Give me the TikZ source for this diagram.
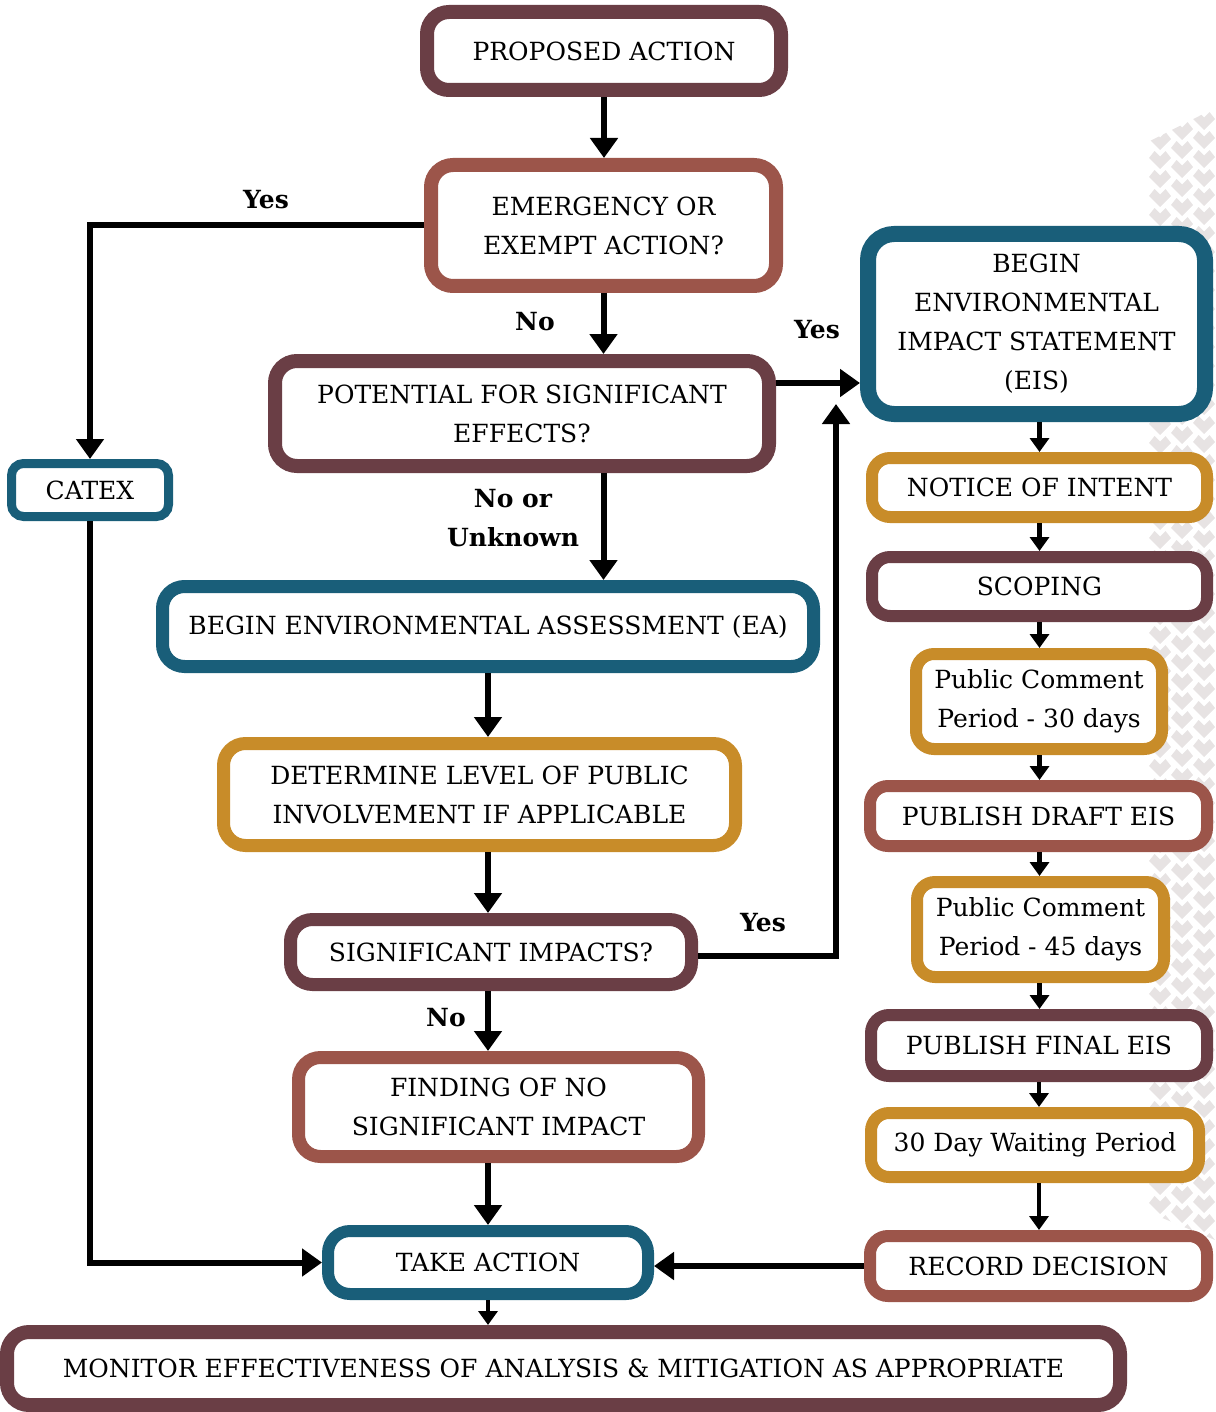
\documentclass[tikz,border=0pt]{standalone}
\usepackage{fontspec}
\setmainfont{DejaVu Serif}
\usetikzlibrary{arrows.meta}
\definecolor{maroon}{HTML}{6A3E45}
\definecolor{brick}{HTML}{9C554A}
\definecolor{teal}{HTML}{195E79}
\definecolor{gold}{HTML}{C88C29}
\definecolor{patgrey}{HTML}{E7E3E3}
\begin{document}
\begin{tikzpicture}[x=1pt,y=-1pt,
  box/.style={draw=#1, fill=white, line width=13pt, rounded corners=22pt,
    align=center, inner sep=0pt, font=\fontsize{25}{39}\selectfont},
  thinbox/.style={box=#1, line width=12pt, rounded corners=18pt},
  arr/.style={line width=6pt, -{Triangle[width=27pt,length=20pt]}},
  sarr/.style={line width=4.5pt, -{Triangle[width=19pt,length=14pt]}},
  lbl/.style={font=\fontsize{25}{39}\selectfont\bfseries, align=center, inner sep=0pt}]

\useasboundingbox (0,0) rectangle (1215,1412);
\clip (0,0) rectangle (1215,1412);

% light chevron texture along the right edge
\begin{scope}
  \clip (1148,142) -- (1215,108) -- (1215,1240) -- (1148,1212) -- cycle;
  \foreach \i in {0,...,3}
    \foreach \j in {0,...,66}
      \fill[patgrey, shift={(1160+22*\i,140-10*\i+19*\j)}]
        (-11,-1) -- (-5.5,-8) -- (0,-2.5) -- (5.5,-8) -- (11,-1) -- (0,10) -- cycle;
\end{scope}

% left column
\node[box=maroon, line width=14pt, minimum width=354pt, minimum height=78pt] (prop) at (604,51) {PROPOSED ACTION};
\node[box=brick, line width=14pt, minimum width=345pt, minimum height=121pt] (emerg) at (603.5,225.5) {EMERGENCY OR\\EXEMPT ACTION?};
\node[box=maroon, line width=14pt, minimum width=494pt, minimum height=105pt] (pot) at (522,413.5) {POTENTIAL FOR SIGNIFICANT\\EFFECTS?};
\node[box=teal, line width=9pt, rounded corners=12pt, minimum width=157pt, minimum height=53pt] (catex) at (90,490) {CATEX};
\node[box=teal, minimum width=651pt, minimum height=80pt] (ea) at (488,626.5) {BEGIN ENVIRONMENTAL ASSESSMENT (EA)};
\node[box=gold, minimum width=512pt, minimum height=102pt] (det) at (479.5,794.5) {DETERMINE LEVEL OF PUBLIC\\INVOLVEMENT IF APPLICABLE};
\node[box=maroon, minimum width=401pt, minimum height=65pt] (sig) at (491,952) {SIGNIFICANT IMPACTS?};
\node[box=brick, minimum width=400pt, minimum height=99pt] (fonsi) at (498.5,1107) {FINDING OF NO\\SIGNIFICANT IMPACT};
\node[box=teal, line width=12pt, minimum width=320pt, minimum height=63pt] (take) at (488,1262.5) {TAKE ACTION};
\node[box=maroon, line width=14pt, minimum width=1113pt, minimum height=73pt] (mon) at (563.5,1368.5) {MONITOR EFFECTIVENESS OF ANALYSIS \& MITIGATION AS APPROPRIATE};

% right column
\node[box=teal, line width=16pt, rounded corners=26pt, minimum width=337pt, minimum height=180pt] (eis) at (1036.5,324) {BEGIN\\ENVIRONMENTAL\\IMPACT STATEMENT\\(EIS)};
\node[thinbox=gold, minimum width=335pt, minimum height=59pt] (noi) at (1039.5,487.5) {NOTICE OF INTENT};
\node[thinbox=maroon, minimum width=335pt, minimum height=59pt] (scop) at (1039.5,586.5) {SCOPING};
\node[thinbox=gold, minimum width=246pt, minimum height=95pt] (pc30) at (1039,701.5) {Public Comment\\Period - 30 days};
\node[thinbox=brick, minimum width=337pt, minimum height=60pt] (draft) at (1038.5,816) {PUBLISH DRAFT EIS};
\node[thinbox=gold, minimum width=247pt, minimum height=95pt] (pc45) at (1040.5,929.5) {Public Comment\\Period - 45 days};
\node[thinbox=maroon, minimum width=336pt, minimum height=61pt] (final) at (1039,1045.5) {PUBLISH FINAL EIS};
\node[thinbox=gold, minimum width=328pt, minimum height=64pt] (wait) at (1035,1145) {30 Day Waiting Period};
\node[thinbox=brick, minimum width=337pt, minimum height=60pt] (rec) at (1038.5,1266) {RECORD DECISION};

% main flow
\draw[arr] (prop.south) -- (prop.south |- emerg.north);
\draw[arr] (emerg.south) -- (emerg.south |- pot.north);
\draw[arr] (emerg.west) -| (catex.north);
\draw[arr] ([yshift=30.5pt]pot.east) coordinate (p1) -- (p1 -| eis.west);
\draw[arr] (pot.south -| emerg.south) -- (ea.north -| emerg.south);
\draw[arr] (ea.south) -- (ea.south |- det.north);
\draw[arr] (det.south -| ea.south) -- (sig.north -| ea.south);
\coordinate (yesup) at (836,404);
\draw[arr] ([yshift=-4pt]sig.east) coordinate (p2) -| (yesup);
\draw[arr] (sig.south -| ea.south) -- (fonsi.north -| ea.south);
\draw[arr] (fonsi.south -| ea.south) -- (take.north -| ea.south);
\draw[arr] (catex.south) |- (take.west);
\draw[arr] (rec.west) -- (rec.west -| take.east);
\draw[sarr] (take.south) -- (take.south |- mon.north);

% EIS sequence
\draw[sarr] (noi.north |- eis.south) -- (noi.north);
\draw[sarr] (noi.south) -- (scop.north);
\draw[sarr] (scop.south) -- (scop.south |- pc30.north);
\draw[sarr] (scop.south |- pc30.south) -- (scop.south |- draft.north);
\draw[sarr] (scop.south |- draft.south) -- (scop.south |- pc45.north);
\draw[sarr] (scop.south |- pc45.south) -- (scop.south |- final.north);
\draw[sarr] (final.south) -- (final.south |- wait.north);
\draw[sarr] (final.south |- wait.south) -- (final.south |- rec.north);

% decision labels
\node[lbl] (l1) at (266,200) {Yes};
\node[lbl] (l2) at (535,322) {No};
\node[lbl] (l3) at (817,330) {Yes};
\node[lbl] (l4) at (513,518) {No or\\Unknown};
\node[lbl] (l5) at (763,923) {Yes};
\node[lbl] (l6) at (446,1018) {No};
\end{tikzpicture}
\end{document}
